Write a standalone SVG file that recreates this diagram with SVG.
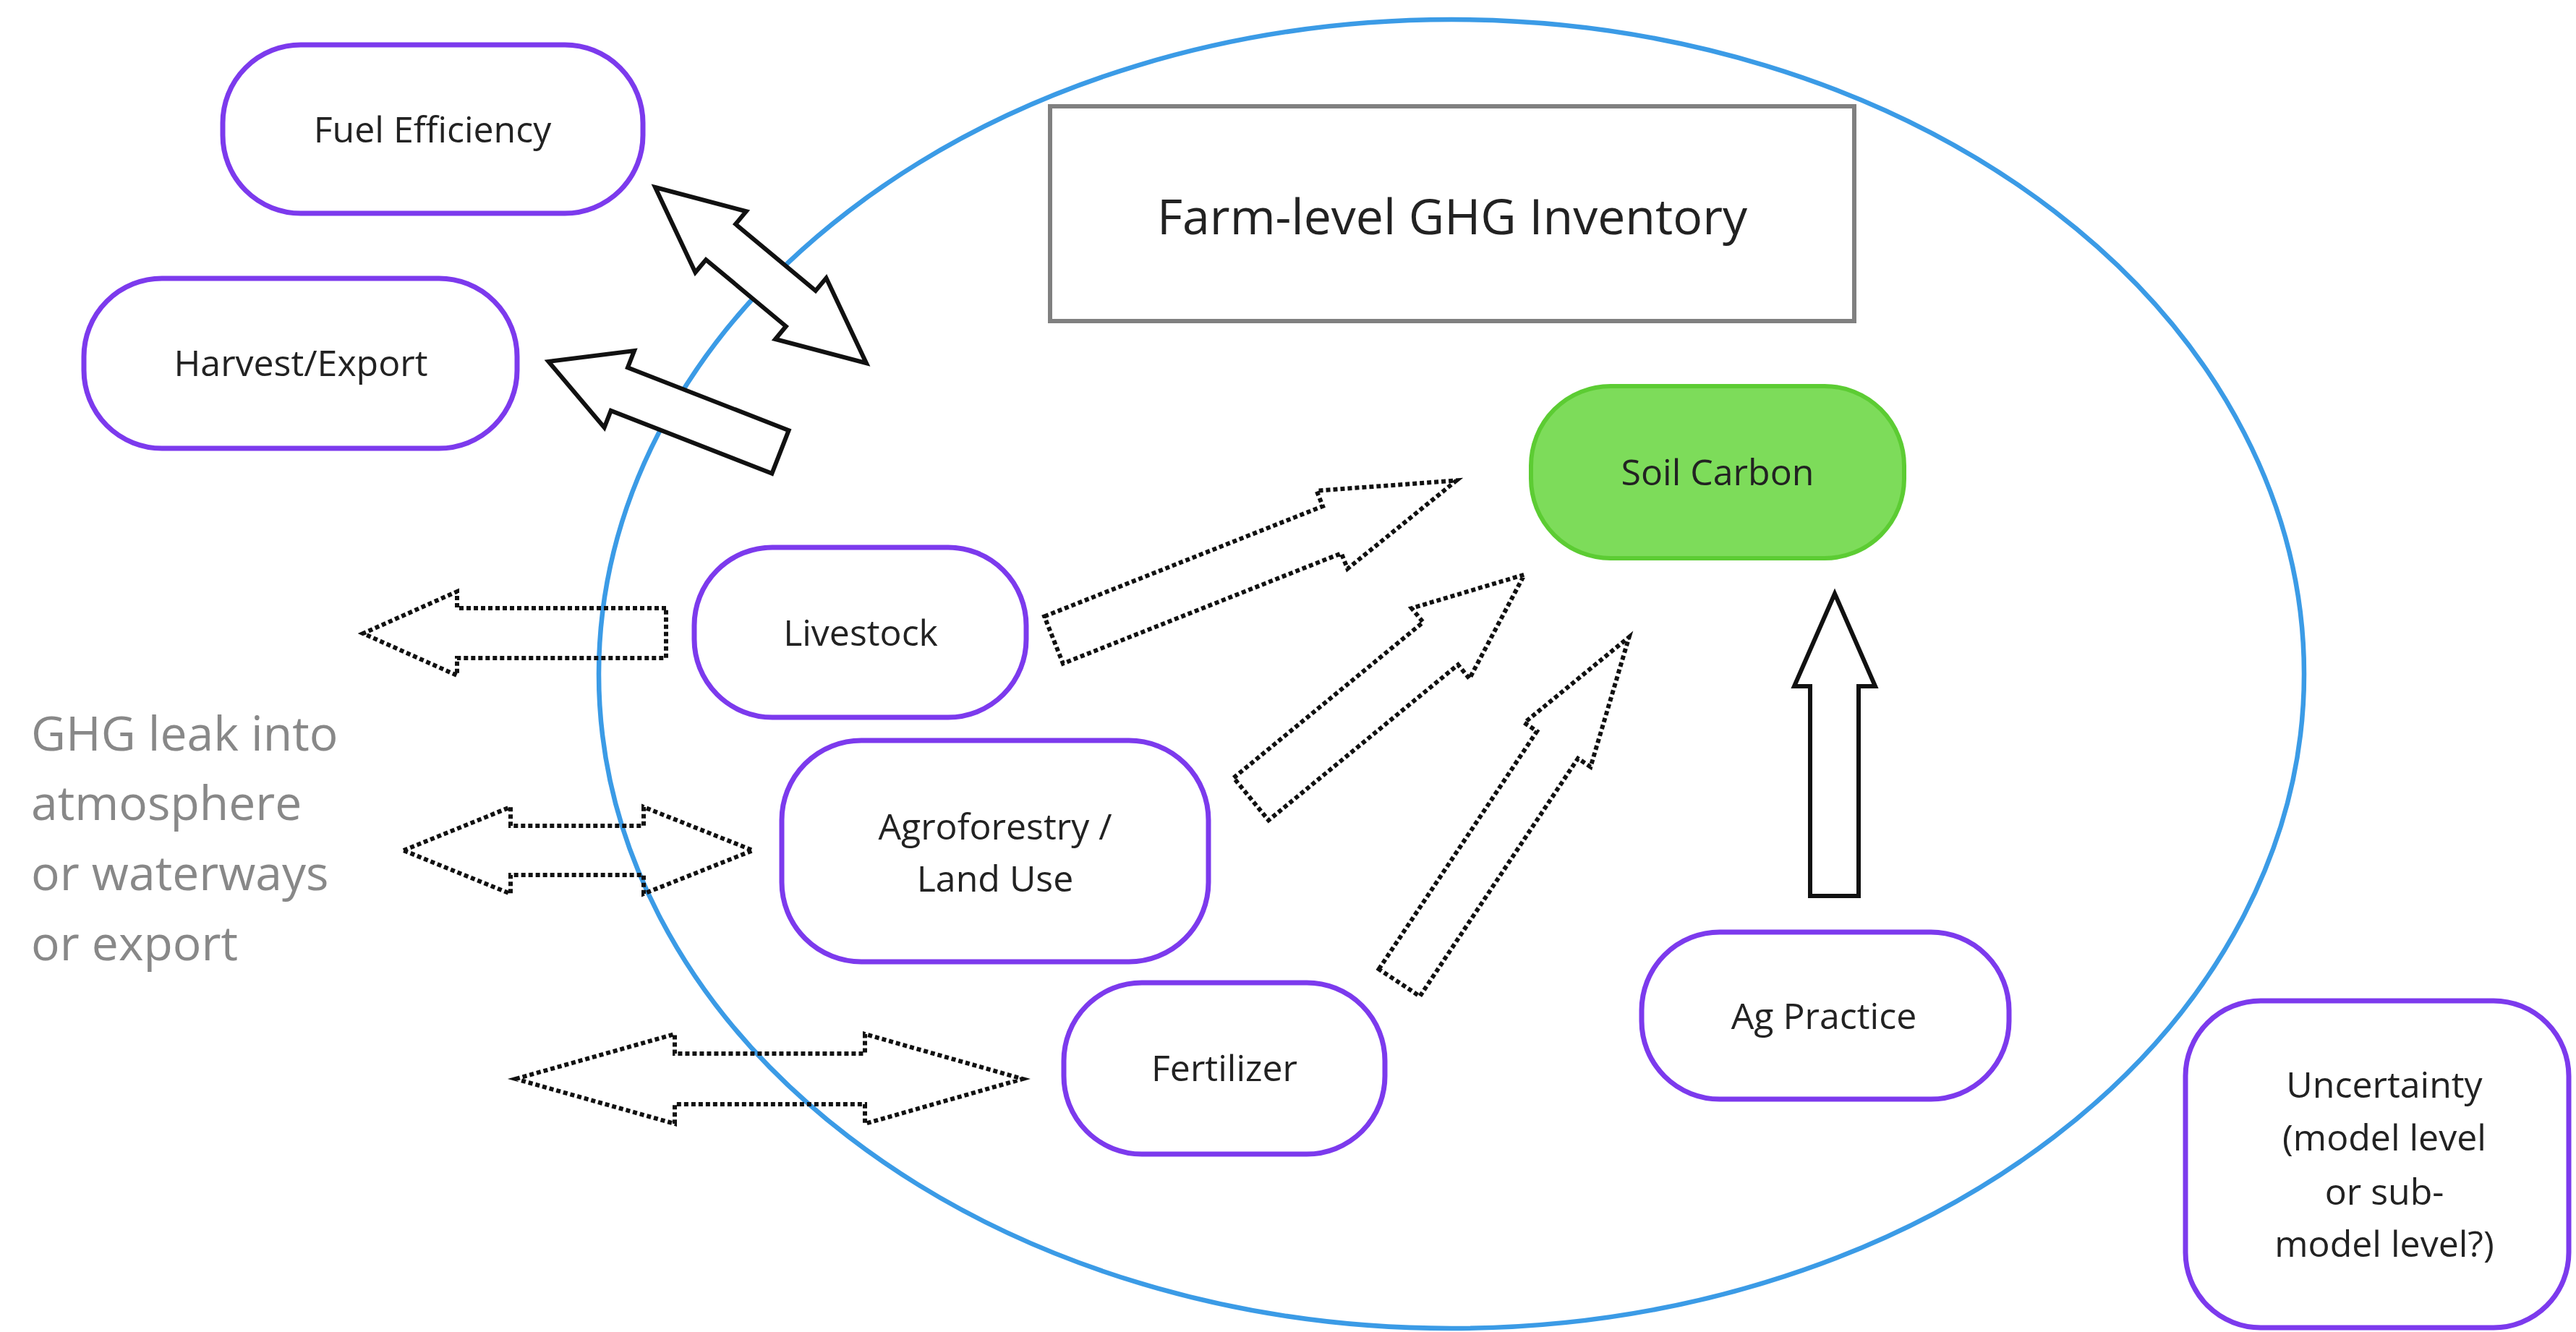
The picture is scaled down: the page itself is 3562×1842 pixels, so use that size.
<svg xmlns="http://www.w3.org/2000/svg" width="3562" height="1842" viewBox="0 0 3562 1842">
<style>
text{font-family:"Open Sans","Liberation Sans",sans-serif;fill:#222;text-anchor:middle}
.node{fill:#fff;stroke:#7c3aed;stroke-width:7}
.t{font-size:50px}
.solid{fill:#fff;stroke:#111;stroke-width:6;stroke-linejoin:miter}
.dot{fill:none;stroke:#111;stroke-width:6;stroke-dasharray:6 4;stroke-linejoin:miter}
</style>
<rect width="3562" height="1842" fill="#fff"/>
<ellipse id="boundary" cx="2007" cy="932" rx="1179" ry="905" fill="none" stroke="#3b9be6" stroke-width="6.5"/>
<text id="ghg-leak" x="43" style="text-anchor:start;font-size:66px;fill:#888"><tspan x="43" y="1038">GHG leak into</tspan><tspan x="43" y="1134">atmosphere</tspan><tspan x="43" y="1231">or waterways</tspan><tspan x="43" y="1328">or export</tspan></text>
<g id="connectors">
<polygon class="solid" points="0,0 118,-55 118,-32 262,-32 262,-55 380,0 262,55 262,32 118,32 118,55" transform="translate(906,259) rotate(39.8)"/>
<polygon class="solid" points="0,-32 239,-32 239,-57 344,0 239,57 239,32 0,32" transform="translate(1079,625) rotate(201.3)"/>
<polygon class="solid" points="2503,1239 2503,949 2481,949 2537,821 2593,949 2570,949 2570,1239"/>
<polygon class="dot" points="921,841 632,841 632,818 502,876 632,934 632,910 921,910"/>
<polygon class="dot" points="558,1176 706,1116 706,1142 890,1142 890,1116 1041,1176 890,1236 890,1210 706,1210 706,1236"/>
<polygon class="dot" points="713,1492 933,1430 933,1457 1196,1457 1196,1430 1414,1492 1196,1554 1196,1527 933,1527 933,1554"/>
<polygon class="dot" points="0,-35 414,-35 414,-58 599,0 414,58 414,35 0,35" transform="translate(1457,885) rotate(-21.6)"/>
<polygon class="dot" points="0,-38 339,-38 339,-63 489,0 339,63 339,38 0,38" transform="translate(1730,1105) rotate(-39.4)"/>
<polygon class="dot" points="0,-34 395,-34 395,-55 574,0 395,55 395,34 0,34" transform="translate(1935,1359) rotate(-56.4)"/>
</g>
<g id="farm-inventory">
<rect x="1452" y="147" width="1112" height="297" fill="#fff" stroke="#808080" stroke-width="6"/>
<text x="2008" y="324" style="font-size:68px">Farm-level GHG Inventory</text>
</g>
<g id="fuel-efficiency">
<rect class="node" x="308" y="62" width="581" height="233" rx="108" ry="108"/>
<text class="t" x="598" y="197">Fuel Efficiency</text>
</g>
<g id="harvest-export">
<rect class="node" x="116" y="385" width="599" height="235" rx="108" ry="108"/>
<text class="t" x="416" y="520">Harvest/Export</text>
</g>
<g id="livestock">
<rect class="node" x="960" y="757" width="459" height="235" rx="108" ry="108"/>
<text class="t" x="1190" y="893">Livestock</text>
</g>
<g id="agroforestry">
<rect class="node" x="1081" y="1024" width="590" height="306" rx="110" ry="110"/>
<text class="t" x="1376" y="1161">Agroforestry /</text>
<text class="t" x="1376" y="1233">Land Use</text>
</g>
<g id="fertilizer">
<rect class="node" x="1471" y="1359" width="444" height="237" rx="108" ry="108"/>
<text class="t" x="1693" y="1495">Fertilizer</text>
</g>
<g id="ag-practice">
<rect class="node" x="2270" y="1289" width="508" height="231" rx="108" ry="108"/>
<text class="t" x="2522" y="1423">Ag Practice</text>
</g>
<g id="soil-carbon">
<rect x="2117" y="534" width="516" height="238" rx="110" ry="110" fill="#7ddc5a" stroke="#5ccc33" stroke-width="6"/>
<text class="t" x="2375" y="671">Soil Carbon</text>
</g>
<g id="uncertainty">
<rect class="node" x="3022" y="1384" width="530" height="452" rx="104" ry="104"/>
<text class="t" x="3297" y="1518">Uncertainty</text>
<text class="t" x="3297" y="1591">(model level</text>
<text class="t" x="3297" y="1666">or sub-</text>
<text class="t" x="3297" y="1738">model level?)</text>
</g>
</svg>
